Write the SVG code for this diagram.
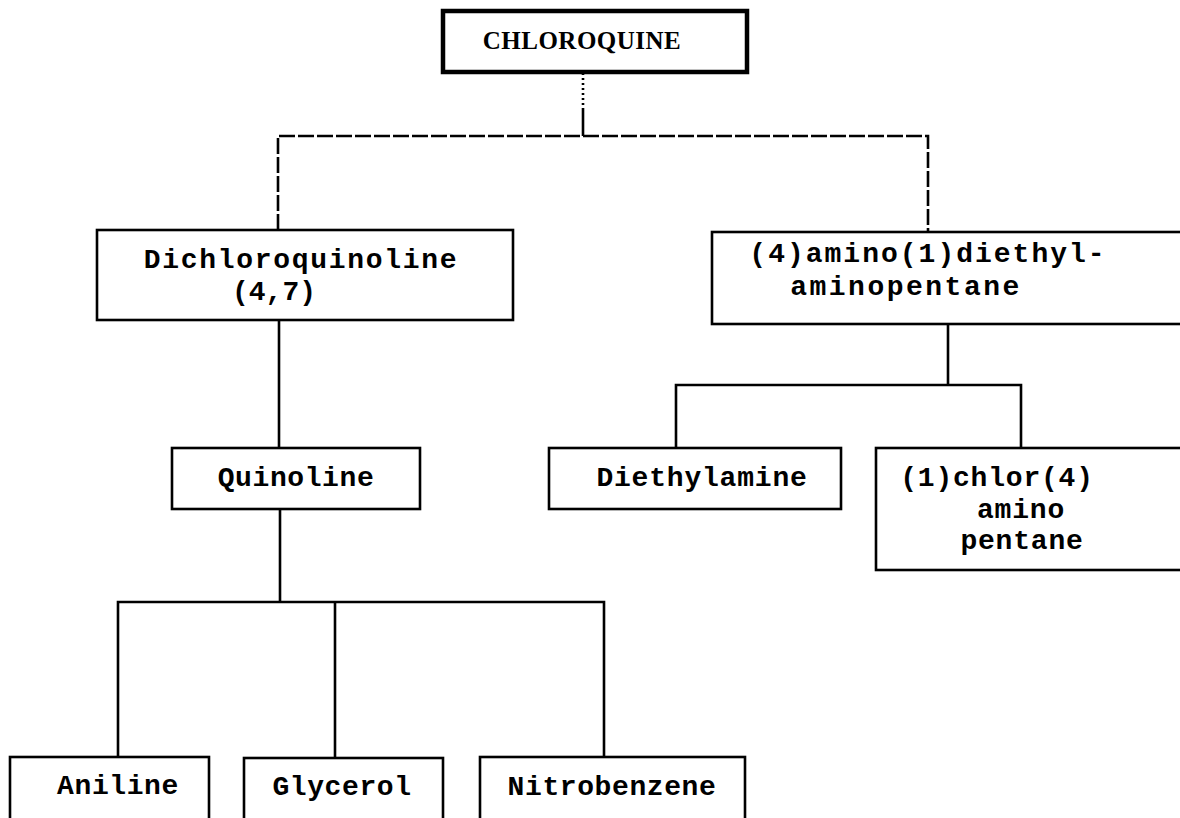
<svg xmlns="http://www.w3.org/2000/svg" width="1180" height="818" viewBox="0 0 1180 818">
<style>
.box{fill:#fff;stroke:#000;stroke-width:2.6}
.line{fill:none;stroke:#000;stroke-width:2.6}
.t{font-family:"Liberation Mono",monospace;font-weight:bold;font-size:28px;fill:#000}
.s{font-family:"Liberation Serif",serif;font-weight:bold;font-size:25px;fill:#000}
</style>
<rect width="1180" height="818" fill="#fff"/>
<g id="connectors">
<line class="line" x1="583" y1="73" x2="583" y2="108" stroke-dasharray="2 3"/>
<line class="line" x1="583" y1="108" x2="583" y2="136"/>
<polyline class="line" points="278,230 278,136 928,136 928,232" stroke-dasharray="16 3"/>
<line class="line" x1="279" y1="320" x2="279" y2="448"/>
<line class="line" x1="280" y1="509" x2="280" y2="602"/>
<polyline class="line" points="118,757 118,602 604,602 604,757"/>
<line class="line" x1="335" y1="602" x2="335" y2="758"/>
<line class="line" x1="948" y1="324" x2="948" y2="385"/>
<polyline class="line" points="676,448 676,385 1021,385 1021,448"/>
</g>
<g id="chloroquine">
<rect x="443" y="11" width="304" height="61" fill="#fff" stroke="#000" stroke-width="4.5"/>
<text class="s" x="582" y="49" text-anchor="middle" letter-spacing="0.5">CHLOROQUINE</text>
</g>
<g id="dichloroquinoline">
<rect class="box" x="97" y="230" width="416" height="90"/>
<text class="t" x="301" y="268" text-anchor="middle" letter-spacing="1.7">Dichloroquinoline</text>
<text class="t" x="274" y="300" text-anchor="middle">(4,7)</text>
</g>
<g id="aminopentane">
<rect class="box" x="712" y="232" width="490" height="92"/>
<text class="t" x="928" y="262" text-anchor="middle" letter-spacing="2">(4)amino(1)diethyl-</text>
<text class="t" x="906" y="295" text-anchor="middle" letter-spacing="2.5">aminopentane</text>
</g>
<g id="quinoline">
<rect class="box" x="172" y="448" width="248" height="61"/>
<text class="t" x="296" y="486" text-anchor="middle" letter-spacing="0.6">Quinoline</text>
</g>
<g id="diethylamine">
<rect class="box" x="549" y="448" width="292" height="61"/>
<text class="t" x="702" y="486" text-anchor="middle" letter-spacing="0.8">Diethylamine</text>
</g>
<g id="chloraminopentane">
<rect class="box" x="876" y="448" width="330" height="122"/>
<text class="t" x="997" y="486" text-anchor="middle" letter-spacing="0.8">(1)chlor(4)</text>
<text class="t" x="1021" y="518" text-anchor="middle" letter-spacing="0.8">amino</text>
<text class="t" x="1022" y="549" text-anchor="middle" letter-spacing="0.8">pentane</text>
</g>
<g id="aniline">
<rect class="box" x="10" y="757" width="199" height="80"/>
<text class="t" x="118" y="794" text-anchor="middle" letter-spacing="0.6">Aniline</text>
</g>
<g id="glycerol">
<rect class="box" x="244" y="758" width="199" height="80"/>
<text class="t" x="342" y="795" text-anchor="middle" letter-spacing="0.6">Glycerol</text>
</g>
<g id="nitrobenzene">
<rect class="box" x="480" y="757" width="265" height="80"/>
<text class="t" x="612" y="795" text-anchor="middle" letter-spacing="0.6">Nitrobenzene</text>
</g>
</svg>
